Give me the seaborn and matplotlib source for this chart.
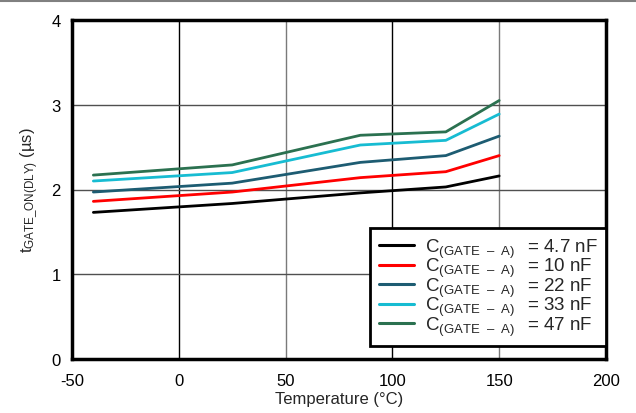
import matplotlib
matplotlib.use("Agg")
import matplotlib.pyplot as plt
import seaborn as sns
import pandas as pd
from matplotlib.lines import Line2D

temps = [-40, 25, 85, 125, 150]
c_4p7 = [1.73, 1.835, 1.96, 2.03, 2.16]
c_10 = [1.86, 1.97, 2.14, 2.21, 2.40]
c_22 = [1.97, 2.075, 2.32, 2.40, 2.63]
c_33 = [2.10, 2.20, 2.525, 2.58, 2.89]
c_47 = [2.17, 2.29, 2.64, 2.68, 3.05]
series_labels = ["4.7 nF", "10 nF", "22 nF", "33 nF", "47 nF"]
colors = ["#000000", "#ff0000", "#1d5c72", "#17bcd2", "#2b7150"]
x_ticks = [-50, 0, 50, 100, 150, 200]
y_ticks = [0, 1, 2, 3, 4]

sns.set_theme(style="white")
plt.rcParams['font.family'] = ['Liberation Sans', 'DejaVu Sans']
plt.rcParams['mathtext.fontset'] = 'custom'
plt.rcParams['mathtext.rm'] = 'Liberation Sans'
plt.rcParams['mathtext.it'] = 'Liberation Sans'
plt.rcParams['axes.unicode_minus'] = False

rows = []
for lab, vals in zip(series_labels, [c_4p7, c_10, c_22, c_33, c_47]):
    for t, v in zip(temps, vals):
        rows.append({"T": t, "v": v, "s": lab})
df = pd.DataFrame(rows)

fig = plt.figure(figsize=(6.36, 4.14), dpi=100)
ax = fig.add_axes([72/636, 1-360/414, (606-72)/636, (360-21)/414])

# grid
for xv in x_ticks[1:-1]:
    ax.axvline(xv, color="#000000" if xv in (0, 100) else "#7a7a7a", lw=1.0, zorder=0)
for yv in y_ticks[1:-1]:
    ax.axhline(yv, color="#505050", lw=1.0, zorder=0)

sns.lineplot(data=df, x="T", y="v", hue="s", palette=colors, ax=ax, lw=2.0,
             legend=False, zorder=3)

ax.set_xlim(-50, 200)
ax.set_ylim(0, 4)
ax.set_xticks(x_ticks)
ax.set_yticks(y_ticks)
ax.tick_params(axis='x', length=0, labelsize=12, pad=10, colors="#000000")
ax.tick_params(axis='y', length=0, labelsize=12, pad=8, colors="#000000")
for sp in ax.spines.values():
    sp.set_visible(True)
    sp.set_color("black")
    sp.set_linewidth(2.5)

ax.set_xlabel("Temperature (°C)", fontsize=12, labelpad=2)
ax.set_ylabel(r"t$_{\mathregular{GATE\_ON(DLY)}}$ (µs)", fontsize=12, labelpad=8)

handles = [Line2D([0], [0], color=c, lw=2.2) for c in colors]
labels = [r"C$_{\mathregular{(GATE\ \ –\ \ A)}}$$\,$  = " + s for s in series_labels]
leg = ax.legend(handles, labels, loc="lower right", bbox_to_anchor=(1.0, 0.038),
                fontsize=13.5, frameon=True, fancybox=False, framealpha=1,
                edgecolor="black", handlelength=1.9, labelspacing=-0.2,
                borderpad=0.45, handletextpad=0.55, borderaxespad=0)
leg.get_frame().set_linewidth(2.0)
leg.set_zorder(5)

fig.add_artist(Line2D([0, 1], [1-2/414, 1-2/414], color="#808080", lw=1.5,
                      transform=fig.transFigure))

fig.savefig("out.png", dpi=100)
